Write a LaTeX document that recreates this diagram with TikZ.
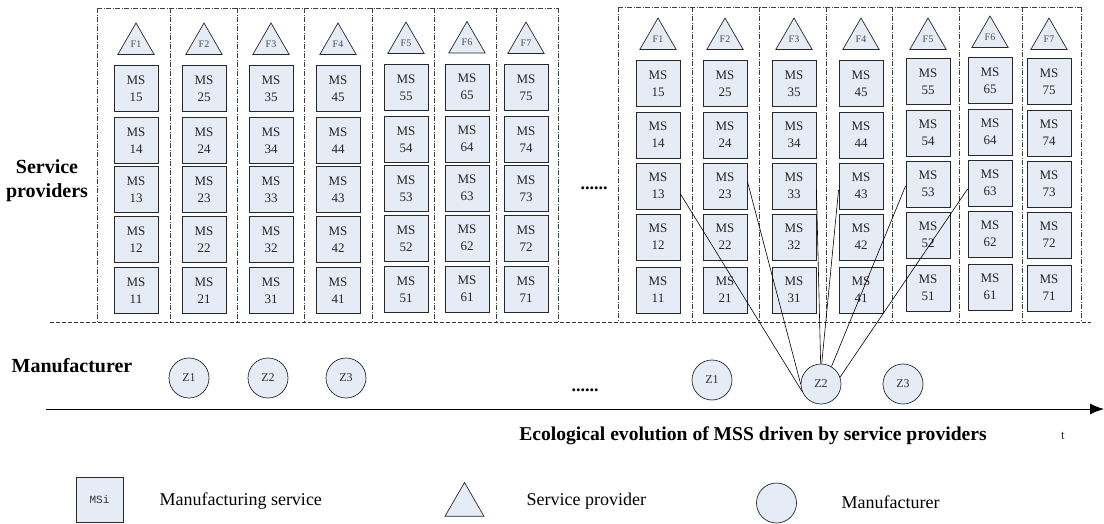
\documentclass[tikz,border=0pt]{standalone}
\usepackage{fontspec}
\setmainfont{Liberation Serif}
\newfontfamily\monof{Liberation Mono}
\usetikzlibrary{shapes.geometric,arrows.meta}
\definecolor{boxfill}{RGB}{230,236,246}
\definecolor{edge}{RGB}{40,40,40}
\begin{document}
\begin{tikzpicture}[x=1pt,y=-1pt,
  msbox/.style={draw=edge,line width=0.9pt,fill=boxfill,minimum width=44pt,minimum height=46pt,inner sep=0pt,align=center,font=\fontsize{13}{17}\selectfont\color{black!85}},
  prov/.style={regular polygon,regular polygon sides=3,draw=edge,line width=0.7pt,fill=boxfill,minimum size=42pt,inner sep=0pt,font=\fontsize{10}{12}\selectfont\color{black!70}},
  manu/.style={circle,draw=edge,line width=0.7pt,fill=boxfill,minimum size=40pt,inner sep=0pt,font=\fontsize{12}{14}\selectfont\color{black!80}},
  colframe/.style={draw=black!75,line width=0.6pt,dash pattern=on 5pt off 1.5pt on 1pt off 1.5pt},
  sepline/.style={draw=black!80,line width=0.7pt,dash pattern=on 4pt off 2pt},
  biglabel/.style={font=\fontsize{20}{24}\selectfont\bfseries,align=center},
  legtext/.style={anchor=west,font=\fontsize{18}{20}\selectfont},
  conn/.style={draw=black,line width=0.6pt},
  dots/.style={font=\fontsize{18}{20}\selectfont\bfseries}
]
\useasboundingbox (0,0) rectangle (1104,523);

% frames of the left group
\draw[colframe] (97,8) -- (558,8);
\foreach \x in {97,170,237,304,372,434,496,558}{\draw[colframe] (\x,8) -- (\x,322);}
% frames of the right group
\draw[colframe] (618,7) -- (1081,7);
\foreach \x in {618,692,759,826,892,959,1022,1081}{\draw[colframe] (\x,7) -- (\x,322);}
% separating dashed line
\draw[sepline] (50,322) -- (1091,322);

% left group
\foreach \c/\x/\dy in {1/136/0,2/204/0,3/271/0,4/338/0,5/406/-1,6/467/-1.5,7/526/-1}{
  \node[prov] (LF\c) at (\x,44+\dy) {F\c};
  \foreach \r/\y in {5/88.5,4/140.5,3/189.5,2/239.5,1/290.5}{
    \node[msbox] (L\c\r) at (\x,\y+\dy) {MS\\\c\r};
  }
}
% right group
\foreach \c/\x/\dy/\fy in {1/658/0/39,2/725/0/39,3/794/0/39,4/861/0/39,5/928/-2/39,6/990/-3/37,7/1049/-2/39}{
  \node[prov] (RF\c) at (\x,\fy) {F\c};
  \foreach \r/\y in {5/83.5,4/135,3/186,2/237,1/290}{
    \node[msbox] (R\c\r) at (\x,\y+\dy) {MS\\\c\r};
  }
}

% manufacturers
\foreach \i/\x in {1/189,2/268,3/346}{\node[manu] (LZ\i) at (\x,378) {Z\i};}
\node[manu] (RZ1) at (712,380) {Z1};
\node[manu] (RZ2) at (821,384) {Z2};
\node[manu] (RZ3) at (903,384) {Z3};

% connectors
\draw[conn] ([yshift=-8pt]R13.east) -- (RZ2.201);
\draw[conn] ([yshift=4.5pt]R23.east) -- (RZ2.180);
\draw[conn] ([yshift=-4pt]R33.east) -- (RZ2.91);
\draw[conn] ([yshift=-4pt]R43.west) -- (RZ2.88);
\draw[conn] ([yshift=-2pt]R53.west) -- (RZ2.59);
\draw[conn] ([yshift=-6pt]R63.west) -- (RZ2.20);

% side labels
\node[biglabel] (sp) at (47,181) {Service\\providers};
\node[biglabel] (mf) at (72,366) {Manufacturer};
\node[dots] (d1) at (594,188) {......};
\node[dots] (d2) at (585,390) {......};

% time axis
\coordinate (tstart) at (46,409);
\coordinate (tend) at (1104,409);
\draw[line width=1pt,-{Latex[length=14pt,width=11pt]}] (tstart) -- (tend);
\node[font=\fontsize{19.6}{21}\selectfont\bfseries] (cap) at (753,436) {Ecological evolution of MSS driven by service providers};
\node[font=\fontsize{13}{14}\selectfont\color{black!80}] (tl) at (1063,436) {t};

% legend
\node[msbox,minimum width=47pt,minimum height=45pt,font=\fontsize{11}{12}\monof\color{black!80}] (lgbox) at (99.5,499.5) {MSi};
\node[legtext] (lgboxt) at (156,501) {Manufacturing service};
\node[prov,minimum size=45pt] (lgtri) at (464.5,505) {};
\node[legtext] (lgtrit) at (523,501) {Service provider};
\node[manu] (lgcirc) at (776.5,503) {};
\node[legtext] (lgcirct) at (838,502) {Manufacturer};
\end{tikzpicture}
\end{document}
